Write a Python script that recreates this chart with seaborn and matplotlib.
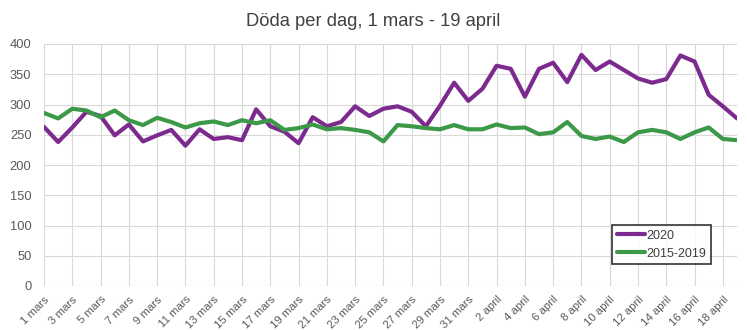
import matplotlib
matplotlib.use("Agg")
import matplotlib.pyplot as plt
import seaborn as sns
import pandas as pd

# Daily deaths, 1 March - 19 April
dates = [f"{d} mars" for d in range(1, 32)] + [f"{d} april" for d in range(1, 20)]

deaths_2020 = [263, 238, 262, 288, 281, 249, 267, 239, 249, 258,
               232, 259, 243, 246, 241, 292, 264, 255, 236, 279,
               264, 271, 297, 281, 293, 297, 288, 264, 298, 336,
               306, 326, 364, 359, 313, 359, 369, 337, 382, 357,
               371, 357, 343, 336, 342, 381, 371, 316, 297, 277]

deaths_2015_2019 = [286, 277, 293, 290, 279, 290, 274, 266, 278, 271,
                    262, 269, 272, 266, 274, 269, 274, 258, 261, 267,
                    259, 261, 258, 254, 239, 266, 264, 261, 259, 266,
                    259, 259, 267, 261, 262, 251, 254, 271, 248, 243,
                    247, 238, 254, 258, 254, 243, 254, 262, 243, 241]

series_names = ["2020", "2015-2019"]
colors = {"2020": "#7d2a8e", "2015-2019": "#3b9947"}

df = pd.DataFrame({
    "dag": list(range(len(dates))) * 2,
    "döda": deaths_2020 + deaths_2015_2019,
    "serie": [series_names[0]] * len(dates) + [series_names[1]] * len(dates),
})

sns.set_theme(style="white")
plt.rcParams["font.family"] = ["Liberation Sans", "DejaVu Sans"]

fig = plt.figure(figsize=(7.47, 3.30), dpi=100)
W, H = 747, 330
ax = fig.add_axes([44 / W, (H - 286) / H, (737 - 44) / W, (286 - 44) / H])

sns.lineplot(data=df, x="dag", y="döda", hue="serie", hue_order=series_names,
             palette=colors, linewidth=3, ax=ax, legend=True)

ax.set_xlim(0, len(dates) - 1)
ax.set_ylim(0, 400)
ax.set_yticks(range(0, 401, 50))
ax.set_xticks(range(0, len(dates), 2))
ax.set_xticklabels(dates[::2], rotation=45, ha="right", rotation_mode="anchor",
                   fontsize=8.2, color="#595959")
ax.tick_params(axis="y", labelsize=9.3, colors="#595959", length=0, pad=9)
ax.tick_params(axis="x", length=5, width=0.8, color="#d9d9d9", pad=1)
ax.set_xlabel("")
ax.set_ylabel("")
ax.grid(True, color="#d9d9d9", linewidth=0.8)
ax.set_axisbelow(True)
for s in ax.spines.values():
    s.set_visible(False)

leg = ax.legend(loc="lower left", bbox_to_anchor=(0.82, 0.09), fontsize=9,
                frameon=True, fancybox=False, handlelength=2.3,
                handletextpad=0.1, borderpad=0.35, labelspacing=0.5,
                borderaxespad=0)
leg.get_frame().set_edgecolor("black")
leg.get_frame().set_linewidth(1.2)
for t in leg.get_texts():
    t.set_color("#404040")

fig.suptitle("Döda per dag, 1 mars - 19 april", y=1 - 21 / H, va="center",
             fontsize=13.2, color="#404040")

fig.savefig("out.png", dpi=100)
